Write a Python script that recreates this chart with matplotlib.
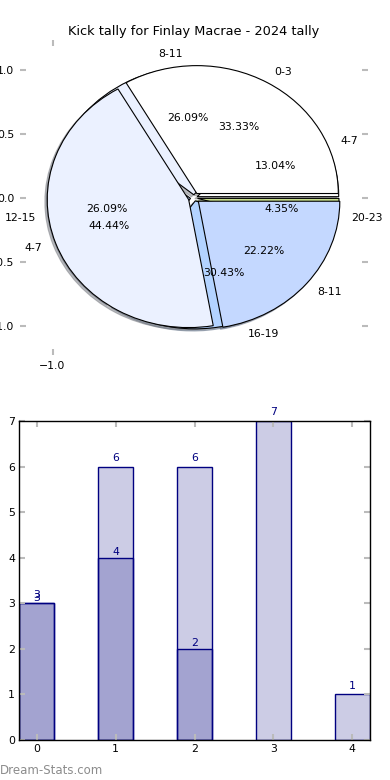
import matplotlib
matplotlib.use('Agg')
import matplotlib.pyplot as plt
import numpy as np

# Kick tallies by time band
early_labels = ['0-3', '4-7', '8-11']
early_counts = [3, 4, 2]
late_labels = ['4-7', '8-11', '12-15', '16-19', '20-23']
late_counts = [3, 6, 6, 7, 1]

bar_pos = [0, 1, 2, 3, 4]
bar_light = [3, 6, 6, 7, 1]
bar_dark = [3, 4, 2]

pie_colors = ['white', '#ebf1ff', '#c4d8ff', '#b3d3ff', '#c9df8c']
navy = 'navy'
fill = (0.0, 0.0, 0.5, 0.2)
fs = 7.8
shade = {'ox': -0.012, 'oy': -0.012, 'shade': 0.5}

fig = plt.figure(figsize=(3.9, 7.8), dpi=100)

# pie part
ax1 = fig.add_axes([20/390, 1 - 355/780, 348/390, 315/780])
ax1.pie(late_counts, labels=late_labels, autopct='%1.2f%%', colors=pie_colors,
        explode=[0.025] * len(late_counts), shadow=shade, frame=True,
        wedgeprops=dict(edgecolor='black', linewidth=0.8),
        textprops=dict(fontsize=fs))
ax1.pie(early_counts, labels=early_labels, autopct='%1.2f%%', colors=pie_colors,
        explode=[0.04] * len(early_counts), shadow=shade, frame=True,
        wedgeprops=dict(edgecolor='black', linewidth=0.8),
        textprops=dict(fontsize=fs))
ax1.set_aspect('auto')
ax1.set_xlim(-1.23, 1.23)
ax1.set_ylim(-1.228, 1.235)
ax1.set_xticks([-1.0])
ax1.set_xticklabels(['\u22121.0'])
ax1.set_yticks([-1.0, -0.5, 0.0, 0.5, 1.0])
for s in ax1.spines.values():
    s.set_visible(False)
ax1.tick_params(direction='in', length=4, width=1.5, color='#bbbbbb',
                labelsize=fs, top=True, right=True, pad=4)
ax1.set_title('Kick tally for Finlay Macrae - 2024 tally', fontsize=9.3, pad=3.5)

# bar part
ax2 = fig.add_axes([19/390, 40/780, 351/390, 319/780])
ax2.bar(bar_pos, bar_light, width=0.45, color=fill, edgecolor=navy, linewidth=1)
ax2.bar(bar_pos[:len(bar_dark)], bar_dark, width=0.45, color=fill,
        edgecolor=navy, linewidth=1)
for x, h in zip(bar_pos, bar_light):
    ax2.text(x, h + 0.08, str(h), ha='center', va='bottom', color=navy, fontsize=fs)
for x, h in zip(bar_pos, bar_dark):
    ax2.text(x, h + 0.01, str(h), ha='center', va='bottom', color=navy, fontsize=fs)
ax2.set_xlim(-0.225, 4.225)
ax2.set_ylim(0, 7)
ax2.set_xticks(bar_pos)
ax2.set_yticks(range(8))
ax2.tick_params(direction='in', length=4, width=1.5, color='#bbbbbb',
                labelsize=fs, top=True, right=True, pad=3)
for s in ax2.spines.values():
    s.set_linewidth(1)

fig.text(0.0, 1 - 770/780, 'Dream-Stats.com', color='#8c8c8c', fontsize=8.5,
         ha='left', va='center')

fig.savefig('out.png', dpi=100)
